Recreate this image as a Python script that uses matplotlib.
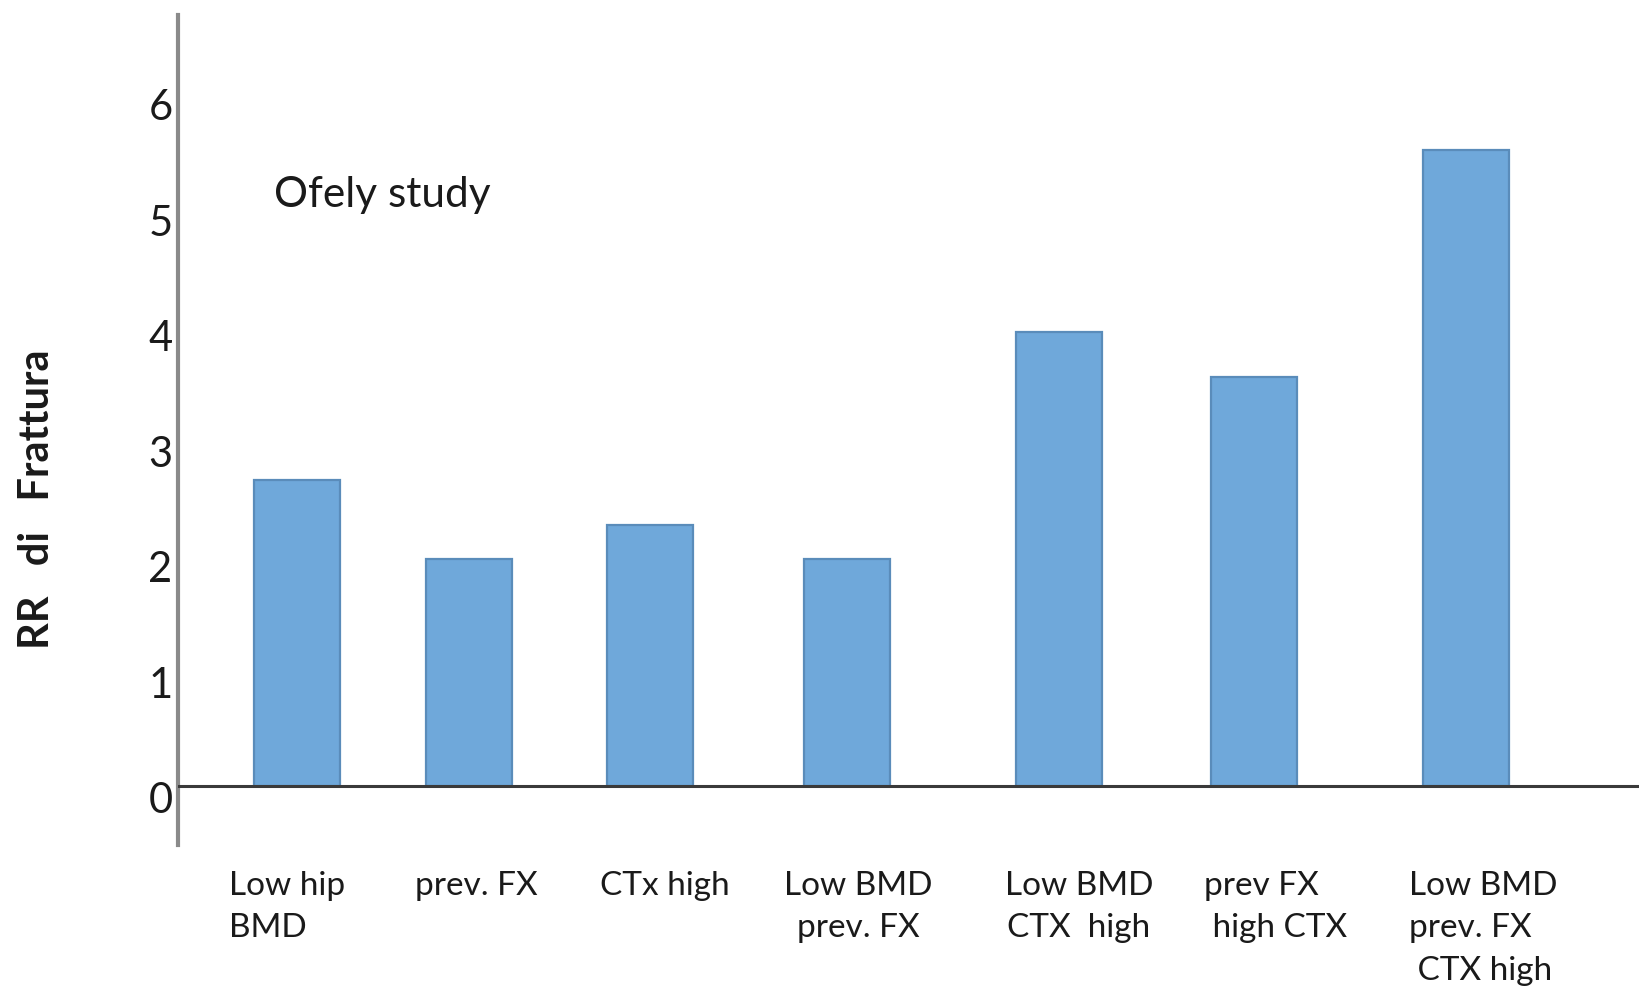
import matplotlib
matplotlib.use("Agg")
import matplotlib.pyplot as plt
from matplotlib.transforms import ScaledTranslation

# Relative risk of fracture by risk-factor combination (OFELY study)
categories = [
    "Low hip\nBMD",
    "prev. FX",
    "CTx high",
    "Low BMD\nprev. FX",
    "Low BMD\nCTX  high",
    "prev FX\n high CTX",
    "Low BMD\nprev. FX\n CTX high",
]
rr_values = [2.7, 2.0, 2.3, 2.0, 4.0, 3.6, 5.6]
y_ticks = [0, 1, 2, 3, 4, 5, 6]

# Layout (horizontal axis is laid out in pixel-like units)
bar_centers = [297, 469, 650, 847, 1059, 1254, 1466]
label_anchor = [229, 415, 600, 858, 1079, 1204, 1409]
label_align = ["left", "left", "left", "center", "center", "left", "left"]
bar_width = 86

plt.rcParams["font.family"] = ["Lato", "DejaVu Sans"]

W, H = 1639, 988
fig = plt.figure(figsize=(W / 100, H / 100), dpi=100)
fig.patch.set_facecolor("white")

unit = 113.5       # pixels per RR unit
base_px = 786      # pixel row of RR = 0
top_px, bot_px = 15, 845
left_px = 178

ax = fig.add_axes([left_px / W, 1 - bot_px / H, 1 - left_px / W, (bot_px - top_px) / H])
ax.set_xlim(left_px, W)
ax.set_ylim(-(bot_px - base_px) / unit, (base_px - top_px) / unit)

ax.bar(bar_centers, rr_values, width=bar_width, color="#6FA8DA",
       edgecolor="#5A8CBA", linewidth=1.6, zorder=2)

ax.axhline(0, color="#3A3A3A", linewidth=2.2, zorder=3)

for s in ["top", "right", "bottom"]:
    ax.spines[s].set_visible(False)
ax.spines["left"].set_color("#8A8A8A")
ax.spines["left"].set_linewidth(3)

ax.set_xticks([])
ax.set_yticks(y_ticks)
ax.set_yticklabels([str(v) for v in y_ticks], fontsize=30, color="#1a1a1a")
ax.tick_params(axis="y", length=0, pad=4)
# the lower tick numbers sit slightly below their values
for v, tl in zip(y_ticks, ax.get_yticklabels()):
    dy = -(6 - v) * 1.4 / 72
    tl.set_transform(tl.get_transform() + ScaledTranslation(0, dy, fig.dpi_scale_trans))

for x, txt, ha in zip(label_anchor, categories, label_align):
    ax.text(x, -(871 - base_px) / unit, txt, ha=ha, va="top", multialignment=ha,
            fontsize=24, color="#1a1a1a", linespacing=1.52, clip_on=False)

ax.text(274, (base_px - 195) / unit, "Ofely study", ha="left", va="center",
        fontsize=30.5, color="#1a1a1a")

fig.text(37 / W, 1 - 499 / H, "RR   di   Frattura", rotation=90, ha="center",
         va="center", fontsize=30, fontweight="bold", color="#1a1a1a")

fig.savefig("out.png", dpi=100, facecolor="white")
